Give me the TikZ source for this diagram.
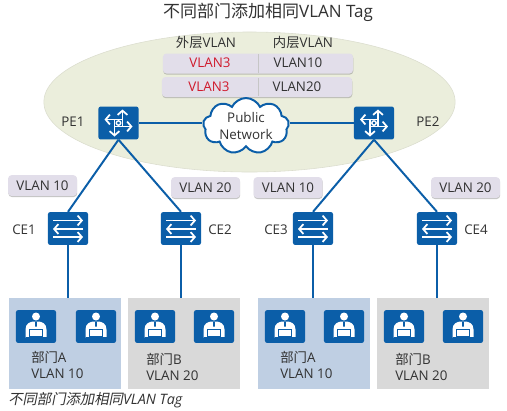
\documentclass[tikz,border=0pt]{standalone}
\usepackage{fontspec}
\setmainfont{Open Sans}
\newfontfamily\cjk{Noto Sans CJK SC}
\newfontfamily\cjkit[FakeSlant=0.2]{Noto Sans CJK SC}
\usepackage{xcolor}
\usetikzlibrary{shapes.geometric, shapes.symbols, arrows.meta, shadows}
\definecolor{hwblue}{RGB}{11,94,168}
\definecolor{hwtext}{RGB}{50,50,50}
\definecolor{hwred}{RGB}{208,26,44}
\definecolor{hwoval}{RGB}{235,238,220}
\definecolor{hwtag}{RGB}{226,222,234}
\definecolor{depta}{RGB}{191,207,227}
\definecolor{deptb}{RGB}{217,217,217}
\tikzset{
  devbox/.style={fill=hwblue, rounded corners=1.5pt, minimum width=1cm, minimum height=0.82cm, inner sep=0pt},
  userbox/.style={fill=hwblue, rounded corners=1.5pt, minimum width=1cm, minimum height=0.82cm, inner sep=0pt},
  tagbox/.style={fill=hwtag, rounded corners=2.5pt, inner sep=0pt, font=\fontsize{9.5}{11}\selectfont, text=hwtext,
    drop shadow={shadow xshift=0.2pt, shadow yshift=-0.8pt, opacity=0.45, fill=gray}},
  dept/.style={minimum width=2.8cm, minimum height=2.275cm, inner sep=0pt},
  link/.style={hwblue, line width=1.4pt},
  lbl/.style={inner sep=0pt, text=hwtext, font=\fontsize{9.5}{11}\selectfont},
  wire/.style={white, line width=1.25pt, -{Straight Barb[length=3pt, width=7pt]}},
  routericon/.pic={
    \draw[wire] (4,3.5) -- (4,-13.5);
    \draw[wire] (-4,3.5) -- (14,3.5);
    \draw[wire] (-4,-3.5) -- (-4,13.5);
    \draw[wire] (4,-3.5) -- (-14,-3.5);
    \draw[white, fill=hwblue, line width=1pt] (0,0) circle (2.2);
  },
  switchicon/.pic={
    \draw[wire] (-15,-8) -- (15,-8);
    \draw[wire] (15,0.5) -- (-15,0.5);
    \draw[wire] (-15,8.5) -- (15,8.5);
  },
  usericon/.pic={
    \fill[white] (0,-10) circle (4);
    \fill[white] (-10.5,11) -- (-10.5,3) .. controls (-10.5,-3) and (-6,-5) .. (-2,-5) -- (2,-5)
      .. controls (6,-5) and (10.5,-3) .. (10.5,3) -- (10.5,11) -- cycle;
    \fill[hwblue] (-1,-5) -- (1,-5) -- (0.8,0) -- (-0.8,0) -- cycle;
    \draw[hwblue, fill=white, line width=0.4pt] (-6.5,3) rectangle (6.5,10.2);
    \draw[hwblue, line width=0.4pt] (-10.5,11) -- (10.5,11);
  }
}
\begin{document}
\begin{tikzpicture}[x=0.025cm, y=-0.025cm]
  \useasboundingbox (0,0) rectangle (507,410);

  % Title
  \node[lbl, font=\fontsize{12.1}{14}\selectfont] (title) at (268,12) {{\cjk 不同部门添加相同}VLAN Tag};

  % Provider network
  \node[ellipse, fill=hwoval, draw=hwoval!85!gray, minimum width=10.28cm, minimum height=3.5cm, inner sep=0pt] (oval) at (249.5,102) {};

  % Tag table
  \node[lbl] (outerhead) at (206,42) {{\cjk 外层}VLAN};
  \node[lbl] (innerhead) at (303,42) {{\cjk 内层}VLAN};
  \node[tagbox, minimum width=4.75cm, minimum height=0.5cm] (rowa) at (258,63.5) {};
  \node[tagbox, minimum width=4.75cm, minimum height=0.5cm] (rowb) at (257,87) {};
  \draw[gray!45] (258,54) -- (258,73);
  \draw[gray!45] (258,78) -- (258,96);
  \node[lbl, text=hwred] (outera) at (210,62.5) {VLAN3};
  \node[lbl] (innera) at (298,62.5) {VLAN10};
  \node[lbl, text=hwred] (outerb) at (209,87) {VLAN3};
  \node[lbl] (innerb) at (297,87) {VLAN20};

  % Routers and cloud
  \node[devbox] (pe1) at (118.5,123) {};
  \node[devbox] (pe2) at (374,123) {};
  \node[cloud, cloud puffs=9, cloud puff arc=130, aspect=1.5, fill=white, draw=hwblue, line width=1.4pt,
    minimum width=2.15cm, minimum height=1.4cm, inner sep=0pt] (cloud) at (246,126) {};
  \node[lbl, align=center, font=\fontsize{9.5}{11.5}\selectfont] (cloudtxt) at (246,126) {Public\\Network};
  \pic at (pe1) {routericon};
  \pic at (pe2) {routericon};
  \draw[link] (pe1.east) -- (pe1.east -| cloud.west);
  \draw[link] (pe2.west) -- (pe2.west -| cloud.east);

  % Switches and their uplinks
  \foreach \nm/\up/\xx in {ce1/pe1/68, ce2/pe1/181, ce3/pe2/313, ce4/pe2/437}{
    \node[devbox] (\nm) at (\xx,228.5) {};
    \pic at (\nm) {switchicon};
    \draw[link] (\up.south) -- (\nm.north);
  }
  \node[lbl] (pe1txt) at (73,122) {PE1};
  \node[lbl] (pe2txt) at (428,122) {PE2};
  \node[lbl] (ce1txt) at (24,230) {CE1};
  \node[lbl] (ce2txt) at (220,230) {CE2};
  \node[lbl] (ce3txt) at (276,230) {CE3};
  \node[lbl] (ce4txt) at (476,230) {CE4};

  % VLAN tags
  \foreach \nm/\xx/\yy/\txt in {taga/42.5/185.5/VLAN 10, tagb/205.5/187.5/VLAN 20, tagc/288/187.5/VLAN 10, tagd/465.5/187.5/VLAN 20}{
    \node[tagbox, minimum width=1.72cm, minimum height=0.52cm] (\nm) at (\xx,\yy) {\txt};
  }

  % Departments
  \node[dept, fill=depta] (depa) at (65,343.5) {};
  \node[dept, fill=deptb] (depb) at (184,343.5) {};
  \node[dept, fill=depta] (depc) at (314,343.5) {};
  \node[dept, fill=deptb] (depd) at (433,343.5) {};
  \draw[link] (ce1.south) -- (ce1.south |- depa.north);
  \draw[link] (ce2.south) -- (ce2.south |- depb.north);
  \draw[link] (ce3.south) -- (ce3.south |- depc.north);
  \draw[link] (ce4.south) -- (ce4.south |- depd.north);

  % Users
  \foreach \nm/\xx in {usera/36, userb/96, userc/155, userd/214, usere/285, userf/344, userg/404, userh/463}{
    \node[userbox] (\nm) at (\xx,326.5) {};
    \pic at (\nm) {usericon};
  }

  % Department labels
  \foreach \nm/\xx/\yy/\dep/\txt in {depatxt/31/365/A/VLAN 10, depbtxt/146/367/B/VLAN 20, depctxt/280/365/A/VLAN 10, depdtxt/395/367/B/VLAN 20}{
    \node[lbl, anchor=west, align=left, font=\fontsize{9.5}{11.8}\selectfont] (\nm) at (\xx,\yy) {{\cjk 部门}\dep\\\txt};
  }

  % Caption
  \node[lbl, anchor=west, font=\fontsize{10.2}{12}\selectfont\itshape] (caption) at (8,400) {{\cjkit 不同部门添加相同}VLAN Tag};
\end{tikzpicture}
\end{document}
